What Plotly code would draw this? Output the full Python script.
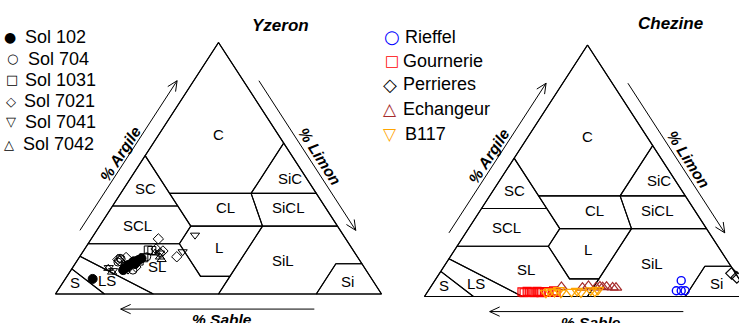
import math
import plotly.graph_objects as go

# ---------------- USDA texture triangle (percent) ----------------
# vertex table: clay %, silt %  (sand = remainder)
tt_clay = [100, 60, 55, 40, 40, 40, 35, 35, 27, 27, 27, 20, 20, 15, 12, 12, 10, 7, 7, 0, 0, 0, 0, 0, 0, 0]
tt_silt = [0, 40, 0, 60, 40, 15, 0, 20, 73, 50, 28, 0, 28, 0, 80, 88, 0, 50, 41, 100, 80, 50, 30, 15, 10, 0]
# class polygons as 1-based vertex indices
class_polygons = {
    "C": [1, 2, 5, 6, 3],
    "SiC": [2, 4, 5],
    "SC": [3, 6, 8, 7],
    "CL": [5, 10, 11, 6],
    "SiCL": [5, 4, 9, 10],
    "SCL": [7, 8, 11, 13, 12],
    "L": [11, 10, 18, 19, 13],
    "SiL": [9, 10, 18, 22, 21, 15, 16],
    "Si": [15, 16, 20, 21],
    "SL": [13, 19, 18, 22, 23, 14, 12],
    "LS": [14, 23, 24, 17],
    "S": [17, 24, 26],
}
outline = [1, 20, 26]
# class label anchors (clay %, silt %)
label_names = ["C", "SC", "SiC", "CL", "SiCL", "SCL", "L", "SL", "SiL", "Si", "S", "LS"]
label_clay = [63.5, 42.0, 46.0, 34.2, 34.2, 27.4, 18.5, 10.8, 13.3, 5.0, 4.4, 5.2]
label_silt = [18.2, 6.7, 48.8, 35.1, 54.4, 11.5, 41.0, 25.8, 63.0, 87.0, 3.9, 13.2]

# ---------------- Yzeron series (clay %, silt %) ----------------
yz_names = ["Sol 102", "Sol 704", "Sol 1031", "Sol 7021", "Sol 7041", "Sol 7042"]
sol102_clay = [6.0, 9.5, 10.3, 11.5, 12.2, 11.9, 13.5, 14.2, 10.7, 12.8, 13.0]
sol102_silt = [8.4, 16.0, 16.2, 16.5, 17.3, 18.4, 18.7, 19.3, 16.6, 18.0, 17.5]
sol704_clay = [14.2, 13.9, 9.5, 14.8, 12.7]
sol704_silt = [12.7, 13.2, 19.0, 20.6, 12.8]
sol1031_clay = [17.5, 14.4, 17.3, 13.1]
sol1031_silt = [19.7, 19.9, 20.9, 19.1]
sol7021_clay = [21.9, 14.8, 16.2, 17.9, 17.1, 13.1, 13.7, 14.5, 10.7]
sol7021_silt = [20.6, 29.8, 24.0, 21.9, 24.4, 13.2, 12.3, 14.4, 19.3]
sol7041_clay = [23.4, 16.8, 10.5, 9.3, 16.3, 9.5]
sol7041_silt = [31.1, 30.6, 11.1, 13.0, 23.9, 17.5]
sol7042_clay = [14.7, 13.7, 10.2, 8.7, 16.3]
sol7042_silt = [24.7, 25.7, 11.1, 13.0, 22.4]

# ---------------- Chezine series (clay %, silt %) ----------------
ch_names = ["Rieffel", "Gournerie", "Perrieres", "Echangeur", "B117"]
rieffel_clay = [6.3, 2.3, 2.3, 2.3]
rieffel_silt = [75.6, 76.1, 77.6, 78.8]
gournerie_clay = [1.8, 1.5, 2.0, 1.6, 1.8, 1.5, 2.0, 1.7, 1.5, 1.9, 1.6, 1.8, 2.2, 1.7]
gournerie_silt = [29.0, 29.8, 30.5, 31.3, 32.0, 32.8, 33.5, 34.2, 35.0, 35.8, 36.5, 37.3, 38.5, 39.5]
perrieres_clay = [7.6, 9.2]
perrieres_silt = [92.0, 89.6]
echangeur_clay = [3.8, 3.5, 4.2, 3.6, 4.0, 3.7, 3.9, 3.6, 3.5]
echangeur_silt = [40.1, 46.7, 48.2, 50.8, 51.8, 52.8, 53.9, 55.9, 57.0]
b117_clay = [1.5, 2.0, 1.8, 2.5, 1.5, 1.8, 2.2, 1.6, 2.4, 1.9, 2.6]
b117_silt = [36.5, 37.5, 39.0, 40.0, 41.1, 44.2, 45.7, 47.2, 49.8, 51.3, 51.9]

# ---------------- geometry / style ----------------
W, H = 739, 323
PXX, PXY = 3.26, 2.515          # pixels per percent (plane x, clay)
SPLIT = 399
ORIG = {1: (55.5, 294.0), 2: (424.5, 296.5)}
FONT = "Liberation Sans, Arial, sans-serif"


def px(clay, silt):
    """ternary -> plane coordinates (x: silt + clay/2, y: clay)"""
    return [s + c / 2.0 for c, s in zip(clay, silt)], list(clay)


fig = go.Figure()


def add_lines(ax):
    xs, ys = [], []
    for poly in list(class_polygons.values()) + [outline]:
        idx = poly + [poly[0]]
        cx, cy = px([tt_clay[i - 1] for i in idx], [tt_silt[i - 1] for i in idx])
        xs += cx + [None]
        ys += cy + [None]
    fig.add_trace(go.Scatter(x=xs, y=ys, mode="lines", line=dict(color="black", width=1.1),
                             hoverinfo="skip", showlegend=False,
                             xaxis="x" if ax == 1 else "x2", yaxis="y" if ax == 1 else "y2"))


def add_pts(ax, clay, silt, name, symbol, color, size, lw=1.0):
    x, y = px(clay, silt)
    fig.add_trace(go.Scatter(x=x, y=y, mode="markers", name=name, showlegend=False,
                             marker=dict(symbol=symbol, size=size, color=color,
                                         line=dict(color=color, width=lw)),
                             xaxis="x" if ax == 1 else "x2", yaxis="y" if ax == 1 else "y2"))


for ax in (1, 2):
    add_lines(ax)

add_pts(1, sol704_clay, sol704_silt, yz_names[1], "circle-open", "black", 8)
add_pts(1, sol1031_clay, sol1031_silt, yz_names[2], "square-open", "black", 8)
add_pts(1, sol7021_clay, sol7021_silt, yz_names[3], "diamond-open", "black", 8)
add_pts(1, sol7041_clay, sol7041_silt, yz_names[4], "triangle-down-open", "black", 8)
add_pts(1, sol7042_clay, sol7042_silt, yz_names[5], "triangle-up-open", "black", 8)
add_pts(1, sol102_clay, sol102_silt, yz_names[0], "circle", "black", 9)

add_pts(2, gournerie_clay, gournerie_silt, ch_names[1], "square-open", "#FF0000", 8, 1.2)
add_pts(2, echangeur_clay, echangeur_silt, ch_names[3], "triangle-up-open", "#A52A2A", 10, 1.2)
add_pts(2, b117_clay, b117_silt, ch_names[4], "triangle-down-open", "#FFA500", 10, 1.2)
add_pts(2, rieffel_clay, rieffel_silt, ch_names[0], "circle-open", "#0000FF", 8, 1.4)
add_pts(2, perrieres_clay, perrieres_silt, ch_names[2], "diamond-open", "black", 9, 1.2)

# ---------------- axes ----------------
def axis_ranges(ax):
    ox, oy = ORIG[ax]
    lo, hi = (0, SPLIT) if ax == 1 else (SPLIT, W)
    return [(lo - ox) / PXX, (hi - ox) / PXX], [(oy - H) / PXY, oy / PXY]

ax_common = dict(visible=False, showgrid=False, zeroline=False, fixedrange=True)
xr1, yr1 = axis_ranges(1)
xr2, yr2 = axis_ranges(2)
fig.update_layout(
    width=W, height=H, margin=dict(l=0, r=0, t=0, b=0),
    paper_bgcolor="white", plot_bgcolor="white", showlegend=False,
    xaxis=dict(domain=[0, SPLIT / W], range=xr1, **ax_common),
    yaxis=dict(domain=[0, 1], range=yr1, **ax_common),
    xaxis2=dict(domain=[SPLIT / W, 1], range=xr2, anchor="y2", **ax_common),
    yaxis2=dict(domain=[0, 1], range=yr2, anchor="x2", **ax_common),
)

# ---------------- arrows & axis titles ----------------
arrows = [((7.5, 25.3), (37.3, 84.8)), ((62.4, 84.8), (92.1, 25.3)), ((79.4, -6.0), (20.0, -6.0))]
shapes = []
annotations = []
ang = math.degrees(math.atan2(100 * PXY, 50 * PXX))
for ax in (1, 2):
    xref, yref = ("x", "y") if ax == 1 else ("x2", "y2")
    for (x0, y0), (x1, y1) in arrows:
        dx, dy = (x1 - x0) * PXX, -(y1 - y0) * PXY
        n = math.hypot(dx, dy)
        ux, uy = dx / n, dy / n
        arms = []
        for t in (math.radians(25), -math.radians(25)):
            rx = ux * math.cos(t) - uy * math.sin(t)
            ry = ux * math.sin(t) + uy * math.cos(t)
            arms.append((x1 - 11 * rx / PXX, y1 + 11 * ry / PXY))
        path = (f"M {x0},{y0} L {x1},{y1} M {arms[0][0]},{arms[0][1]} L {x1},{y1} "
                f"L {arms[1][0]},{arms[1][1]}")
        shapes.append(dict(type="path", path=path, xref=xref, yref=yref,
                           line=dict(color="black", width=1)))
    tfont = dict(family=FONT, size=15.5, color="black")
    annotations.append(dict(x=19.9, y=56.0, xref=xref, yref=yref, text="<b><i>% Argile</i></b>",
                            showarrow=False, textangle=-ang, font=tfont,
                            xanchor="center", yanchor="middle"))
    annotations.append(dict(x=81.0, y=54.5, xref=xref, yref=yref, text="<b><i>% Limon</i></b>",
                            showarrow=False, textangle=ang, font=tfont,
                            xanchor="center", yanchor="middle"))
    annotations.append(dict(x=51.2, y=-10.2, xref=xref, yref=yref, text="<b><i>% Sable</i></b>",
                            showarrow=False, font=tfont, xanchor="center", yanchor="middle"))
    lx, ly = px(label_clay, label_silt)
    for name, x, y in zip(label_names, lx, ly):
        annotations.append(dict(x=x, y=y, xref=xref, yref=yref, text=name, showarrow=False,
                                xanchor="center", yanchor="middle",
                                font=dict(family=FONT, size=15, color="black")))

# titles
for txt, cx, cy in (("Yzeron", 280, 25), ("Chezine", 670, 24)):
    annotations.append(dict(x=cx / W, y=1 - cy / H, xref="paper", yref="paper",
                            text=f"<b><i>{txt}</i></b>", showarrow=False,
                            xanchor="center", yanchor="middle",
                            font=dict(family=FONT, size=17, color="black")))

# legends (glyph + label)
yz_glyphs = ["●", "○", "□", "◇", "▽", "△"]
yz_gsize = [14, 13, 13, 13, 13, 13]
yz_gx = [10, 12, 11.7, 11, 11, 9]
yz_tx = [22.7, 26, 23, 21.7, 22.7, 20.7]
yz_ty = [36.7, 58.7, 80, 101, 122, 144]
for g, name, gs, gx, tx, ty in zip(yz_glyphs, yz_names, yz_gsize, yz_gx, yz_tx, yz_ty):
    annotations.append(dict(x=gx / W, y=1 - ty / H, xref="paper", yref="paper", text=g,
                            showarrow=False, xanchor="center", yanchor="middle",
                            font=dict(family="DejaVu Sans", size=gs, color="black")))
    annotations.append(dict(x=tx / W, y=1 - ty / H, xref="paper", yref="paper", text=name,
                            showarrow=False, xanchor="left", yanchor="middle",
                            font=dict(family=FONT, size=18, color="black")))

ch_glyphs = ["○", "□", "◇", "△", "▽"]
ch_colors = ["#0000FF", "#FF0000", "black", "#A52A2A", "#FFA500"]
ch_gsize = [18, 15, 18, 17, 17]
ch_gx = [391.7, 391.7, 390, 390, 390]
ch_tx = [402.7, 400.7, 400.7, 400.7, 403.3]
ch_ty = [36.7, 61, 84, 108.7, 134]
for g, name, c, gs, gx, tx, ty in zip(ch_glyphs, ch_names, ch_colors, ch_gsize, ch_gx, ch_tx, ch_ty):
    annotations.append(dict(x=gx / W, y=1 - ty / H, xref="paper", yref="paper", text=g,
                            showarrow=False, xanchor="center", yanchor="middle",
                            font=dict(family="DejaVu Sans", size=gs, color=c)))
    annotations.append(dict(x=tx / W, y=1 - ty / H, xref="paper", yref="paper", text=name,
                            showarrow=False, xanchor="left", yanchor="middle",
                            font=dict(family=FONT, size=18, color="black")))

fig.update_layout(shapes=shapes, annotations=annotations)
fig.write_html("out.html", config={"displayModeBar": False},
               post_script="document.body.style.margin='0';document.body.style.overflow='hidden';")
